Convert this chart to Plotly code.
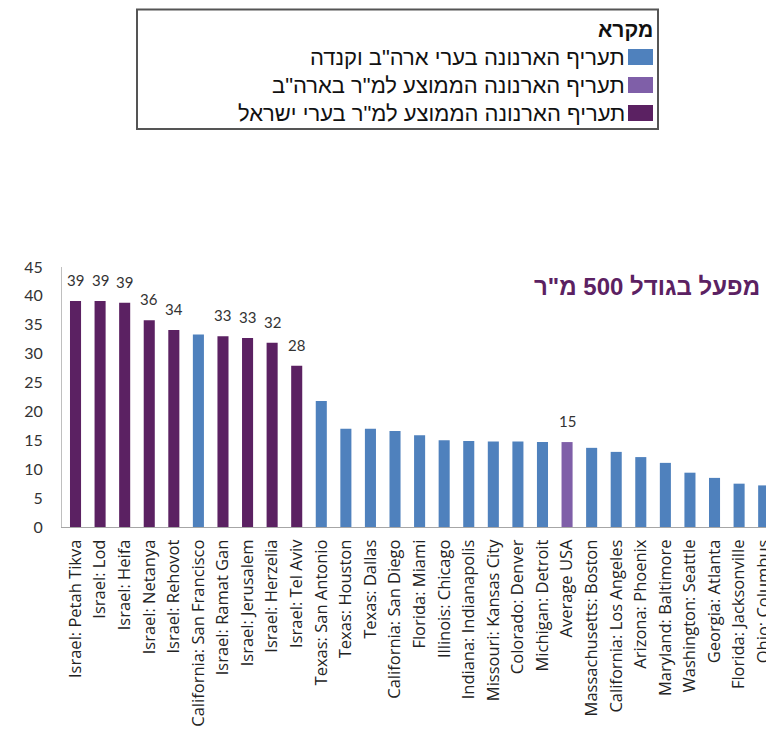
import plotly.graph_objects as go

categories = [
    "Israel: Petah Tikva", "Israel: Lod", "Israel: Heifa", "Israel: Netanya", "Israel: Rehovot",
    "California: San Francisco", "Israel: Ramat Gan", "Israel: Jerusalem", "Israel: Herzelia",
    "Israel: Tel Aviv", "Texas: San Antonio", "Texas: Houston", "Texas: Dallas",
    "California: San Diego", "Florida: Miami", "Illinois: Chicago", "Indiana: Indianapolis",
    "Missouri: Kansas City", "Colorado: Denver", "Michigan: Detroit", "Average USA",
    "Massachusetts: Boston", "California: Los Angeles", "Arizona: Phoenix", "Maryland: Baltimore",
    "Washington: Seattle", "Georgia: Atlanta", "Florida: Jacksonville", "Ohio: Columbus",
]
values = [
    39.1, 39.1, 38.8, 35.8, 34.1,
    33.3, 33.0, 32.7, 31.9,
    27.9, 21.8, 17.0, 17.0,
    16.6, 15.9, 15.0, 14.9,
    14.8, 14.8, 14.7, 14.7,
    13.7, 13.0, 12.1, 11.1,
    9.4, 8.5, 7.5, 7.2,
]
groups = [
    "il", "il", "il", "il", "il",
    "us", "il", "il", "il",
    "il", "us", "us", "us",
    "us", "us", "us", "us",
    "us", "us", "us", "avg",
    "us", "us", "us", "us",
    "us", "us", "us", "us",
]
value_labels = [
    "39", "39", "39", "36", "34",
    "", "33", "33", "32",
    "28", "", "", "",
    "", "", "", "",
    "", "", "", "15",
    "", "", "", "",
    "", "", "", "",
]
y_ticks = [0, 5, 10, 15, 20, 25, 30, 35, 40, 45]

legend_title = "מקרא"
legend_items = [
    ("us", "תעריף הארנונה בערי ארה\"ב וקנדה"),
    ("avg", "תעריף הארנונה הממוצע למ\"ר בארה\"ב"),
    ("il", "תעריף הארנונה הממוצע למ\"ר בערי ישראל"),
]
chart_title = "מפעל בגודל 500 מ\"ר"

colors = {"us": "#4F81BD", "avg": "#7F5FA8", "il": "#5B2162"}

# the page body has an 8px margin: the figure is sized to fit the 774x732 window
OFF = 8
W, H = 774 - OFF, 732 - OFF
L, R, T, B = 54, 0, 259, 205
PW, PH = W - L - R, H - T - B


def px(x):
    return (x - OFF - L) / PW


def py(y):
    return (H - B - (y - OFF)) / PH


HEB = "Liberation Sans, Arial, DejaVu Sans, sans-serif"

fig = go.Figure()
fig.add_trace(go.Bar(
    x=categories,
    y=values,
    marker=dict(color=[colors[g] for g in groups], line=dict(width=0)),
    showlegend=False,
    hoverinfo="x+y",
))

annotations = []
for c, v, lab in zip(categories, values, value_labels):
    if lab:
        annotations.append(dict(
            x=c, y=v, xref="x", yref="y", text=lab, showarrow=False,
            yanchor="bottom", yshift=10,
            font=dict(family="Lato, Liberation Sans, sans-serif", size=15, color="#333333"),
        ))

# chart title
annotations.append(dict(
    x=px(762), y=py(286), xref="paper", yref="paper", text="<b>" + chart_title + "</b>",
    showarrow=False, xanchor="right", yanchor="middle",
    font=dict(family=HEB, size=24, color="#5B2162"),
))

# legend box
shapes = [dict(
    type="rect", xref="paper", yref="paper",
    x0=px(137), x1=px(658), y0=py(9.5), y1=py(129),
    line=dict(color="#555555", width=2), fillcolor="white", layer="below",
)]
annotations.append(dict(
    x=px(655), y=py(30), xref="paper", yref="paper", text="<b>" + legend_title + "</b>",
    showarrow=False, xanchor="right", yanchor="middle",
    font=dict(family=HEB, size=21, color="#111111"),
))
row_y = [57, 85, 113]
for (g, txt), ry in zip(legend_items, row_y):
    shapes.append(dict(
        type="rect", xref="paper", yref="paper",
        x0=px(628), x1=px(653), y0=py(ry - 8), y1=py(ry + 8),
        line=dict(color=colors[g], width=0), fillcolor=colors[g],
    ))
    annotations.append(dict(
        x=px(627), y=py(ry), xref="paper", yref="paper", text=txt,
        showarrow=False, xanchor="right", yanchor="middle",
        font=dict(family=HEB, size=22, color="#111111"),
    ))

n = len(categories)
fig.update_layout(
    width=W, height=H,
    margin=dict(l=L, r=R, t=T, b=B, autoexpand=False),
    paper_bgcolor="white", plot_bgcolor="white",
    bargap=0.55,
    showlegend=False,
    annotations=annotations,
    shapes=shapes,
    xaxis=dict(
        type="category", categoryorder="array", categoryarray=categories,
        range=[-0.55, n - 0.58],
        tickangle=-90, showgrid=False, showline=True, linecolor="#A6A6A6", linewidth=1,
        ticks="", ticklabelstandoff=5,
        tickfont=dict(family="Open Sans, Liberation Sans, sans-serif", size=16.5, color="#222222"),
    ),
    yaxis=dict(
        range=[0, 45], tickvals=y_ticks, showgrid=False, zeroline=False,
        showline=True, linecolor="#BFBFBF", linewidth=1, ticks="", ticklabelstandoff=15,
        tickfont=dict(family="Lato, Liberation Sans, sans-serif", size=16, color="#333333"),
    ),
)

fig.write_html("out.html")
